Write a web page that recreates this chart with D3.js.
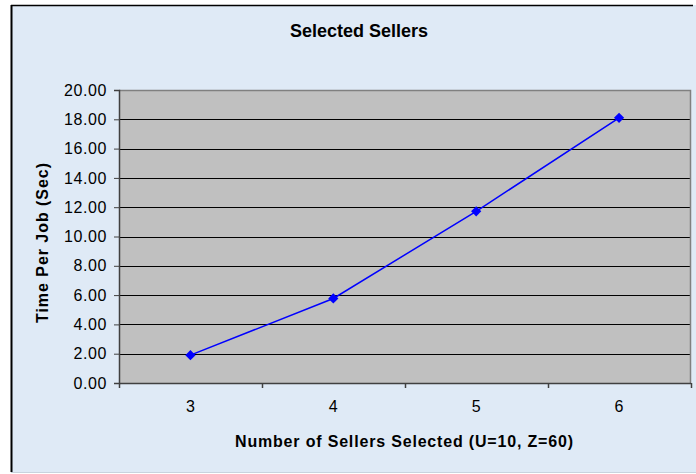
<!DOCTYPE html>
<html>
<head>
<meta charset="utf-8">
<script src="https://cdn.jsdelivr.net/npm/d3@7"></script>
<style>
  html, body { margin: 0; padding: 0; background: #ffffff; }
  svg { display: block; font-family: "Liberation Sans", Arial, sans-serif; }
</style>
</head>
<body>
<svg id="chart" width="696" height="474"></svg>
<script>
// Number of sellers selected and the time it takes per job
const sellers = ["3", "4", "5", "6"];
const timePerJob = [1.9, 5.77, 11.72, 18.1];
const yTicks = [0, 2, 4, 6, 8, 10, 12, 14, 16, 18, 20];

const chartTitle = "Selected Sellers";
const xTitle = "Number of Sellers Selected (U=10, Z=60)";
const yTitle = "Time Per Job (Sec)";

const svg = d3.select("#chart");

// Outer frame
svg.append("rect")
  .attr("x", 11).attr("y", 5)
  .attr("width", 685).attr("height", 467)
  .attr("fill", "#dfeaf6");
svg.append("line")
  .attr("x1", 11).attr("x2", 693).attr("y1", 5.5).attr("y2", 5.5)
  .attr("stroke", "#000").attr("stroke-width", 1.5);
svg.append("line")
  .attr("x1", 11.5).attr("x2", 11.5).attr("y1", 5).attr("y2", 472)
  .attr("stroke", "#000").attr("stroke-width", 2);
svg.append("line")
  .attr("x1", 11).attr("x2", 696).attr("y1", 472.5).attr("y2", 472.5)
  .attr("stroke", "#c8d3de").attr("stroke-width", 1);

// Plot area
const plot = { left: 119, right: 690.5, top: 90, bottom: 383 };

const x = d3.scaleBand()
  .domain(sellers)
  .range([plot.left, plot.right])
  .padding(0);

const y = d3.scaleLinear()
  .domain([0, 20])
  .range([plot.bottom, plot.top]);

svg.append("rect")
  .attr("x", plot.left).attr("y", plot.top)
  .attr("width", plot.right - plot.left)
  .attr("height", plot.bottom - plot.top)
  .attr("fill", "#c0c0c0");

// Horizontal gridlines
svg.append("g")
  .selectAll("line")
  .data(yTicks.filter(d => d > 0 && d < 20))
  .join("line")
  .attr("x1", plot.left).attr("x2", plot.right)
  .attr("y1", d => Math.round(y(d)) + 0.5)
  .attr("y2", d => Math.round(y(d)) + 0.5)
  .attr("stroke", "#000").attr("stroke-width", 1);

// Plot border (top and right)
svg.append("path")
  .attr("d", `M${plot.left},${plot.top + 0.5}H${plot.right}V${plot.bottom}`)
  .attr("fill", "none")
  .attr("stroke", "#808080").attr("stroke-width", 1.5);

// Y axis
const yAxis = svg.append("g")
  .attr("transform", `translate(${plot.left},0)`)
  .call(d3.axisLeft(y)
    .tickValues(yTicks)
    .tickFormat(d3.format(".2f"))
    .tickSize(5)
    .tickPadding(7));
yAxis.attr("font-size", null).attr("font-family", null);
yAxis.select(".domain").attr("stroke", "#404040").attr("stroke-width", 1.5);
yAxis.selectAll(".tick line").attr("stroke", "#404040");
yAxis.selectAll(".tick text")
  .style("font-size", "16px")
  .style("letter-spacing", "0.6px")
  .attr("fill", "#000");

// X axis: labels centred in each category, ticks on category boundaries
const xAxis = svg.append("g")
  .attr("transform", `translate(0,${plot.bottom})`)
  .call(d3.axisBottom(x).tickSize(0).tickPadding(18));
xAxis.attr("font-size", null).attr("font-family", null);
xAxis.select(".domain").attr("stroke", "#404040").attr("stroke-width", 1.5);
xAxis.selectAll(".tick text")
  .style("font-size", "16px")
  .attr("fill", "#000");

const boundaries = sellers.map(s => x(s)).concat([x(sellers[sellers.length - 1]) + x.bandwidth()]);
xAxis.selectAll(".boundary")
  .data(boundaries)
  .join("line")
  .attr("class", "boundary")
  .attr("x1", d => Math.round(d) + 0.5).attr("x2", d => Math.round(d) + 0.5)
  .attr("y1", 0).attr("y2", 5)
  .attr("stroke", "#404040").attr("stroke-width", 1.5);

// Series line and markers
const pts = sellers.map((s, i) => [x(s) + x.bandwidth() / 2, y(timePerJob[i])]);

svg.append("path")
  .datum(pts)
  .attr("d", d3.line())
  .attr("fill", "none")
  .attr("stroke", "#0000ff")
  .attr("stroke-width", 1.5);

svg.append("g")
  .selectAll("path")
  .data(pts)
  .join("path")
  .attr("transform", d => `translate(${d[0]},${d[1]}) rotate(45)`)
  .attr("d", d3.symbol(d3.symbolSquare, 52))
  .attr("fill", "#0000ff");

// Titles
svg.append("text")
  .attr("x", 359).attr("y", 37)
  .attr("text-anchor", "middle")
  .style("font-size", "18px")
  .attr("font-weight", "bold")
  .attr("fill", "#000")
  .text(chartTitle);

svg.append("text")
  .attr("x", 404).attr("y", 446.5)
  .attr("text-anchor", "middle")
  .style("font-size", "16px")
  .attr("font-weight", "bold")
  .attr("textLength", 338)
  .attr("lengthAdjust", "spacing")
  .attr("fill", "#000")
  .text(xTitle);

svg.append("text")
  .attr("transform", "translate(47.5,243) rotate(-90)")
  .attr("text-anchor", "middle")
  .style("font-size", "16px")
  .attr("font-weight", "bold")
  .attr("textLength", 160)
  .attr("lengthAdjust", "spacing")
  .attr("fill", "#000")
  .text(yTitle);
</script>
</body>
</html>
